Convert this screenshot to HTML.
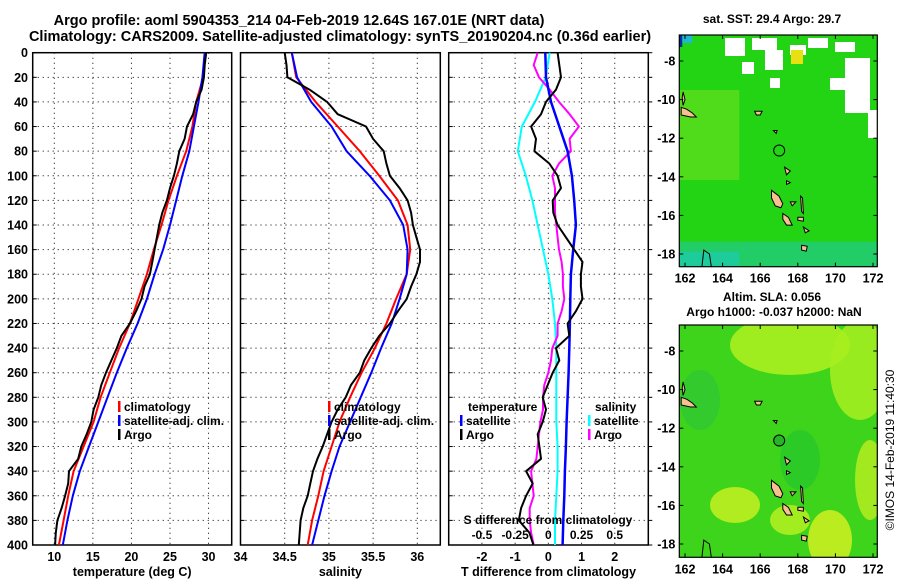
<!DOCTYPE html>
<html><head><meta charset="utf-8"><style>
html,body{margin:0;padding:0;background:#fff;}
svg{display:block;font-family:"Liberation Sans",sans-serif;font-weight:bold;}
</style></head><body>
<svg id="fig" width="900" height="580" viewBox="0 0 900 580">
<text x="299" y="25" font-size="14.5" text-anchor="middle">Argo profile: aoml 5904353_214 04-Feb-2019 12.64S 167.01E (NRT data)</text>
<text x="340" y="41" font-size="14.5" text-anchor="middle">Climatology: CARS2009. Satellite-adjusted climatology: synTS_20190204.nc (0.36d earlier)</text>
<text x="772" y="23" font-size="12" text-anchor="middle">sat. SST: 29.4 Argo: 29.7</text>
<text x="772" y="301" font-size="12" text-anchor="middle">Altim. SLA: 0.056</text>
<text x="774" y="316" font-size="12" text-anchor="middle">Argo h1000: -0.037 h2000: NaN</text>
<text transform="translate(894,450) rotate(-90)" font-size="12" font-weight="normal" text-anchor="middle">©IMOS 14-Feb-2019 11:40:30</text>
</svg>
<script>
// ---------- data ----------
const depthsArgo = [0,10,20,30,40,50,60,70,80,90,100,110,120,130,140,150,160,170,180,190,200,210,220,230,240,250,260,270,280,290,300,310,320,330,340,350,360,370,380,390,400];
const depthsClim = [0,20,40,60,80,100,120,140,160,180,200,220,240,260,280,300,320,340,360,380,400];
const tempArgo = [29.7,29.5,29.4,29.1,28.4,28.0,27.2,26.9,26.2,25.9,25.5,25.0,24.6,24.0,23.6,23.3,23.0,22.7,22.4,21.7,21.3,20.6,19.8,18.7,18.1,17.4,16.7,16.1,15.7,15.1,14.8,14.2,13.5,13.1,11.9,11.8,11.4,10.95,10.4,10.2,10.1];
const tempClim = [29.5,29.3,28.4,27.9,27.1,25.9,24.8,23.9,22.9,22.0,20.9,19.8,18.4,17.2,16.0,15.1,13.8,12.5,11.8,11.2,10.6];
const tempSat = [29.5,29.2,28.7,28.1,27.5,26.6,25.8,25.0,24.1,23.0,22.0,20.8,19.4,18.1,16.9,15.7,14.5,13.3,12.4,11.7,11.1];
const salArgo = [34.5,34.52,34.53,34.78,34.98,35.1,35.42,35.5,35.62,35.65,35.69,35.8,35.89,35.93,35.95,35.99,36.03,36.03,35.99,35.93,35.88,35.78,35.69,35.57,35.48,35.4,35.35,35.25,35.19,35.1,35.03,34.98,34.93,34.87,34.82,34.79,34.76,34.71,34.68,34.67,34.66];
const salClim = [34.58,34.63,34.85,35.1,35.35,35.57,35.78,35.89,35.92,35.88,35.76,35.65,35.52,35.37,35.24,35.12,35.03,34.94,34.88,34.81,34.76];
const salSat = [34.58,34.64,34.8,35.03,35.2,35.46,35.69,35.84,35.89,35.88,35.8,35.71,35.59,35.48,35.36,35.24,35.12,35.03,34.95,34.88,34.81];
const tDiffArgo = [0.28,0.33,0.38,0.23,-0.07,-0.22,-0.52,-0.37,-0.42,0.03,0.28,0.38,0.13,0.15,0.28,0.53,0.78,1.03,0.98,0.98,1.03,0.83,0.58,0.63,0.23,0.33,0.13,-0.02,-0.17,-0.07,-0.17,-0.32,-0.27,-0.22,-0.67,-0.47,-0.67,-0.82,-0.89,-0.57,-0.45];
const tDiffSat = [-0.09,-0.07,0.08,0.33,0.58,0.71,0.78,0.83,0.75,0.68,0.66,0.65,0.63,0.61,0.58,0.55,0.53,0.5,0.48,0.45,0.43];
const sDiffSat = [0.01,-0.02,-0.1,-0.2,-0.23,-0.17,-0.12,-0.08,-0.04,0,0.03,0.05,0.06,0.06,0.06,0.06,0.07,0.07,0.06,0.05,0.05];
const sDiffArgo = [-0.08,-0.11,-0.07,0.01,0.08,0.16,0.23,0.16,0.17,0.08,0.03,0.05,0.05,0.05,0.06,0.07,0.08,0.1,0.11,0.11,0.12,0.1,0.07,0.07,0.03,0.02,0,-0.03,-0.04,-0.04,-0.06,-0.07,-0.08,-0.09,-0.13,-0.12,-0.11,-0.14,-0.14,-0.13,-0.11];
const depthTicks = [0,20,40,60,80,100,120,140,160,180,200,220,240,260,280,300,320,340,360,380,400];
const tempTicks = [10,15,20,25,30];
const salTicks = [34,34.5,35,35.5,36];
const tDiffTicks = [-2,-1,0,1,2];
const sDiffTickLabels = ["-0.5","-0.25","0","0.25","0.5"];
const sDiffTicks = [-0.5,-0.25,0,0.25,0.5];
const latTicks = [-8,-10,-12,-14,-16,-18];
const lonTicks = [162,164,166,168,170,172];
const argoLon = 167.01, argoLat = -12.64;

// ---------- helpers ----------
const NS="http://www.w3.org/2000/svg";
const svg=document.getElementById('fig');
function mk(tag,attrs,parent){const e=document.createElementNS(NS,tag);for(const k in attrs)e.setAttribute(k,attrs[k]);(parent||svg).appendChild(e);return e;}
const TOP=52.7,BOT=545;
const yD=d=>TOP+(BOT-TOP)*d/400;
function lin(d0,d1,r0,r1){return v=>r0+(v-d0)*(r1-r0)/(d1-d0);}
const panels=[
 {x0:32.7,x1:231.7,dom:[7.2,33.0],ticks:tempTicks,labels:tempTicks.map(String),title:"temperature (deg C)",name:"temperature-panel"},
 {x0:240.5,x1:440.3,dom:[34,36.26],ticks:salTicks,labels:salTicks.map(String),title:"salinity",name:"salinity-panel"},
 {x0:448.7,x1:648.3,dom:[-3,3.01],ticks:tDiffTicks,labels:tDiffTicks.map(String),title:"T difference from climatology",name:"difference-panel"}
];
panels.forEach((p,pi)=>{
 const g=mk('g',{});
 
 
 p.sx=lin(p.dom[0],p.dom[1],p.x0,p.x1);
 depthTicks.forEach(d=>{
  if(d>0&&d<400){const l=mk('line',{x1:p.x0,x2:p.x1,y1:yD(d),y2:yD(d),stroke:'#000','stroke-width':1,'stroke-dasharray':'1 4'},g);
  
  }
  mk('line',{x1:p.x0,x2:p.x0+4,y1:yD(d),y2:yD(d),stroke:'#000'},g);
  if(pi==2) mk('line',{x1:p.x1,x2:p.x1+4,y1:yD(d),y2:yD(d),stroke:'#000'},g);
 });
 p.ticks.forEach((t,i)=>{
  const x=p.sx(t);
  if(x>p.x0+1&&x<p.x1-1){const l=mk('line',{x1:x,x2:x,y1:TOP,y2:BOT,stroke:'#000','stroke-dasharray':'1 4'},g);
  
  }
  const tx=mk('text',{x:x,y:561,'font-size':12.5,'text-anchor':'middle'},g);tx.textContent=p.labels[i];
  
  
 });
 const r=mk('rect',{x:p.x0,y:TOP,width:p.x1-p.x0,height:BOT-TOP,fill:'none',stroke:'#000','stroke-width':1.5},g);
 
 
 const tt=mk('text',{x:(p.x0+p.x1)/2,y:576,'font-size':12.5,'text-anchor':'middle'},g);tt.textContent=p.title;
 
 
});
depthTicks.forEach(d=>{const t=mk('text',{x:28,y:yD(d)+4.5,'font-size':12.5,'text-anchor':'end'});t.textContent=d;
 
 });

function line(sx,vals,deps,color,w,name){
 const pts=vals.map((v,i)=>sx(v).toFixed(1)+','+yD(deps[i]).toFixed(1)).join(' ');
 const l=mk('polyline',{points:pts,fill:'none',stroke:color,'stroke-width':w,'stroke-linejoin':'round'});
 
 
}
const P=panels;
line(P[0].sx,tempClim,depthsClim,'#f00',2,'temp-climatology-line');
line(P[0].sx,tempSat,depthsClim,'#00f',2,'temp-satellite-line');
line(P[0].sx,tempArgo,depthsArgo,'#000',2,'temp-argo-line');
line(P[1].sx,salClim,depthsClim,'#f00',2,'salinity-climatology-line');
line(P[1].sx,salSat,depthsClim,'#00f',2,'salinity-satellite-line');
line(P[1].sx,salArgo,depthsArgo,'#000',2,'salinity-argo-line');
const sxS=v=>P[2].sx(v*4);
line(sxS,sDiffSat,depthsClim,'#0ff',2,'sdiff-satellite-line');
line(sxS,sDiffArgo,depthsArgo,'#f0f',2,'sdiff-argo-line');
line(P[2].sx,tDiffSat,depthsClim,'#00f',2.5,'tdiff-satellite-line');
line(P[2].sx,tDiffArgo,depthsArgo,'#000',2,'tdiff-argo-line');

sDiffTicks.forEach((t,i)=>{const tx=mk('text',{x:sxS(t),y:539,'font-size':12,'text-anchor':'middle'});tx.textContent=sDiffTickLabels[i];
 
 });
{const t=mk('text',{x:548,y:524,'font-size':12,'text-anchor':'middle'});t.textContent='S difference from climatology';
 
 }

function legend(x,y,color,label,name){
 const g=mk('g',{});
 
 
 mk('rect',{x:x,y:y-10,width:2.5,height:11,fill:color},g);
 const t=mk('text',{x:x+6,y:y,'font-size':12},g);t.textContent=label;
}
[[118,'#f00','climatology'],[118,'#00f','satellite-adj. clim.'],[118,'#000','Argo']].forEach((e,i)=>legend(e[0],411+i*14,e[1],e[2],'temp-legend-entry'));
[[328,'#f00','climatology'],[328,'#00f','satellite-adj. clim.'],[328,'#000','Argo']].forEach((e,i)=>legend(e[0],411+i*14,e[1],e[2],'salinity-legend-entry'));
{const t=mk('text',{x:468,y:411,'font-size':12});t.textContent='temperature';}
{const t=mk('text',{x:595,y:411,'font-size':12});t.textContent='salinity';}
legend(460,425,'#00f','satellite','diff-legend-temp-satellite');
legend(460,439,'#000','Argo','diff-legend-temp-argo');
legend(588,425,'#0ff','satellite','diff-legend-sal-satellite');
legend(588,439,'#f0f','Argo','diff-legend-sal-argo');

// ---------- maps ----------
const MX0=679.3,MX1=877.3;
const mx=lin(162,172,685,873);
const islands=[
 [[161.8,-10.4],[162.1,-10.5],[162.4,-10.7],[162.6,-10.9],[162.3,-10.9],[161.8,-10.8]],
 [[161.9,-9.6],[162.0,-10.0],[161.9,-10.3],[161.85,-9.9]],
 [[166.6,-14.7],[167.0,-15.0],[167.2,-15.4],[167.1,-15.6],[166.8,-15.5],[166.6,-15.1]],
 [[167.2,-15.9],[167.5,-16.1],[167.7,-16.5],[167.4,-16.5],[167.2,-16.2]],
 [[168.2,-17.55],[168.5,-17.6],[168.45,-17.85],[168.2,-17.8]],
 [[168.0,-16.1],[168.3,-16.1],[168.3,-16.3],[168.0,-16.25]],
 [[168.15,-15.0],[168.25,-15.1],[168.3,-15.9],[168.2,-15.8]],
 [[168.3,-16.6],[168.6,-16.8],[168.4,-16.9]],
 [[167.6,-15.3],[167.9,-15.3],[167.7,-15.5]],
 [[165.7,-10.6],[166.1,-10.6],[166.0,-10.8],[165.8,-10.8]],
 [[167.3,-13.5],[167.6,-13.7],[167.4,-13.9]],
 [[167.4,-14.2],[167.6,-14.3],[167.4,-14.4]],
 [[166.7,-11.6],[166.9,-11.6],[166.85,-11.75]]
];
function drawMap(top,bot,kind){
 const my=lin(-8,-18,top+26,top+219);
 const g=mk('g',{});
 
 
 const id='clip'+kind;
 const cp=mk('clipPath',{id:id},g);mk('rect',{x:MX0,y:top,width:MX1-MX0,height:bot-top},cp);
 const c=mk('g',{'clip-path':`url(#${id})`},g);
 if(kind==0){
  mk('rect',{x:MX0,y:top,width:MX1-MX0,height:bot-top,fill:'#22d414'},c);
  mk('rect',{x:MX0,y:top+55,width:60,height:90,fill:'#6fe020',opacity:0.6},c);
  mk('rect',{x:MX0,y:bot-25,width:MX1-MX0,height:25,fill:'#22cc66'},c);
  mk('rect',{x:MX0,y:bot-15,width:60,height:15,fill:'#1ecb9a'},c);
  const whites=[[725,38,20,18],[752,38,25,12],[765,50,18,20],[790,45,16,10],[808,38,20,10],[835,42,20,10],[845,58,25,55],[830,78,15,12],[868,110,9,28],[742,62,12,12],[770,78,10,10]];
  whites.forEach(w=>mk('rect',{x:w[0],y:w[1],width:w[2],height:w[3],fill:'#fff'},c));
  mk('rect',{x:791,y:50,width:12,height:14,fill:'#e8e010'},c);
  mk('rect',{x:MX0,y:top,width:3,height:12,fill:'#0030a0'},c);
  mk('rect',{x:MX0+3,y:top,width:10,height:8,fill:'#20b8d0'},c);
 } else {
  mk('rect',{x:MX0,y:top,width:MX1-MX0,height:bot-top,fill:'#3ed41c'},c);
  [[790,345,60,30,'#b0f020'],[860,370,30,50,'#a8ee20'],[735,505,25,18,'#c4f020'],[830,540,22,30,'#d0f020'],[870,480,15,40,'#b4ec20'],[700,400,20,30,'#30c830'],[800,460,20,30,'#28c828'],[790,520,20,15,'#b4f020']].forEach(e=>mk('ellipse',{cx:e[0],cy:e[1],rx:e[2],ry:e[3],fill:e[4],opacity:0.85},c));
 }
 islands.forEach(isl=>{const pts=isl.map(p=>mx(p[0]).toFixed(1)+','+my(p[1]).toFixed(1)).join(' ');
  const pg=mk('polygon',{points:pts,fill:'#f8c090',stroke:'#000','stroke-width':1},c);
  
  });
 mk('path',{d:`M${mx(162.9)},${bot} L${mx(163)},${my(-17.8)} L${mx(163.3)},${my(-18)} L${mx(163.4)},${bot}`,fill:'none',stroke:'#000'},c);
 const circ=mk('circle',{cx:mx(argoLon),cy:my(argoLat),r:5.5,fill:kind?'#28b428':'none',stroke:'#000','stroke-width':1},c);
 
 
 mk('rect',{x:MX0,y:top,width:MX1-MX0,height:bot-top,fill:'none',stroke:'#000','stroke-width':1.2},g);
 latTicks.forEach(l=>{const y=my(l);
  mk('line',{x1:MX0,x2:MX0+4,y1:y,y2:y,stroke:'#000'},g);
  mk('line',{x1:MX1-4,x2:MX1,y1:y,y2:y,stroke:'#000'},g);
  const t=mk('text',{x:MX0-4,y:y+4.5,'font-size':12.5,'text-anchor':'end'},g);t.textContent=l;
  
  });
 lonTicks.forEach(l=>{const x=mx(l);
  mk('line',{x1:x,x2:x,y1:bot-4,y2:bot,stroke:'#000'},g);
  mk('line',{x1:x,x2:x,y1:top,y2:top+4,stroke:'#000'},g);
  const t=mk('text',{x:x,y:bot+16,'font-size':12.5,'text-anchor':'middle'},g);t.textContent=l;
  
  });
}
drawMap(35,266.7,0);
drawMap(325,557.3,1);
</script>
</body></html>
